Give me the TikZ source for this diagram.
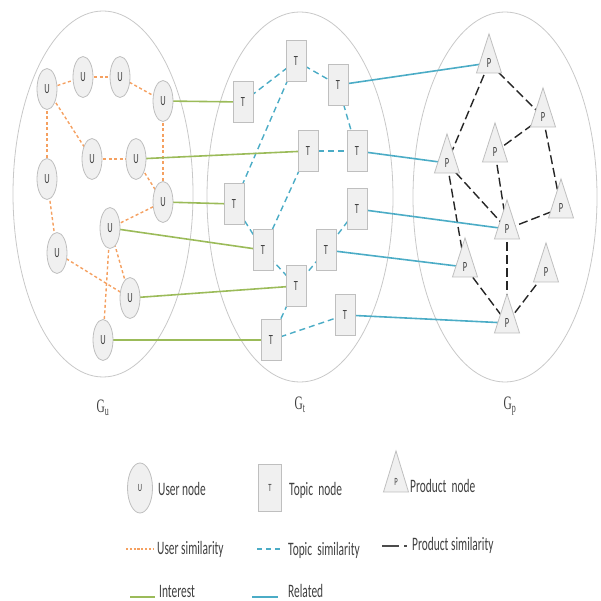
\documentclass[tikz,border=0pt]{standalone}
\usepackage{fontspec}
\setmainfont{Carlito}
\newfontfamily\gserif{Liberation Serif}
\usetikzlibrary{shapes.geometric,backgrounds}
\definecolor{uor}{HTML}{F5A060}
\definecolor{tbl}{HTML}{4BACC6}
\definecolor{igr}{HTML}{9BBB59}
\definecolor{nfill}{HTML}{F0F0F0}
\definecolor{nline}{HTML}{BFBFBF}
\definecolor{gline}{HTML}{C8C8C8}
\definecolor{txt}{HTML}{404040}
\newcommand{\sq}[1]{\scalebox{0.6}[1]{#1}}
\begin{document}
\begin{tikzpicture}[x=1pt,y=-1pt,
  every node/.style={text=txt},
  unode/.style={ellipse, draw=nline, fill=nfill, line width=0.8pt, minimum width=20pt, minimum height=41pt, inner sep=0pt, font=\fontsize{14}{14}\selectfont},
  tnode/.style={rectangle, draw=nline, fill=nfill, line width=0.8pt, minimum width=20pt, minimum height=41pt, inner sep=0pt, font=\fontsize{14}{14}\selectfont},
  pnode/.style={isosceles triangle, shape border rotate=90, isosceles triangle stretches, draw=nline, fill=nfill, line width=0.8pt, minimum width=25pt, minimum height=39pt, inner sep=0pt, font=\fontsize{14}{14}\selectfont},
  graph/.style={draw=gline, line width=0.8pt},
  usim/.style={draw=uor, line width=1.4pt, dash pattern=on 3pt off 2.5pt},
  tsim/.style={draw=tbl, line width=1.4pt, dash pattern=on 6pt off 4pt},
  psim/.style={draw=black!85, line width=1.4pt, dash pattern=on 9pt off 4pt},
  inter/.style={draw=igr, line width=1.6pt},
  rel/.style={draw=tbl, line width=1.6pt},
  gl/.style={font=\gserif\fontsize{19}{19}\selectfont},
  lt/.style={anchor=west, font=\fontsize{19}{19}\selectfont, inner sep=0pt}
]
\useasboundingbox (0,0) rectangle (600,601);

% user nodes
\node[unode] (u1) at (47,89) {\sq{U}};
\node[unode] (u2) at (83,77) {\sq{U}};
\node[unode] (u3) at (120,77) {\sq{U}};
\node[unode] (u4) at (163,101) {\sq{U}};
\node[unode] (u5) at (92,159) {\sq{U}};
\node[unode] (u6) at (136,159) {\sq{U}};
\node[unode] (u7) at (47,179) {\sq{U}};
\node[unode] (u8) at (163,202) {\sq{U}};
\node[unode] (u9) at (110,228) {\sq{U}};
\node[unode] (u10) at (57,253) {\sq{U}};
\node[unode] (u11) at (130,298) {\sq{U}};
\node[unode] (u12) at (103,340) {\sq{U}};

% topic nodes
\node[tnode] (t1) at (243,102) {\sq{T}};
\node[tnode] (t2) at (296,61) {\sq{T}};
\node[tnode] (t3) at (338,85) {\sq{T}};
\node[tnode] (t4) at (308,151) {\sq{T}};
\node[tnode] (t5) at (357,151) {\sq{T}};
\node[tnode] (t6) at (234,204) {\sq{T}};
\node[tnode] (t7) at (357,209) {\sq{T}};
\node[tnode] (t8) at (263,250) {\sq{T}};
\node[tnode] (t9) at (326,250) {\sq{T}};
\node[tnode] (t10) at (296,286) {\sq{T}};
\node[tnode] (t11) at (345,315) {\sq{T}};
\node[tnode] (t12) at (271,340) {\sq{T}};

% product nodes
\node[pnode] (p1) at (489,63) {\sq{P}};
\node[pnode] (p2) at (543,117) {\sq{P}};
\node[pnode] (p3) at (495,152) {\sq{P}};
\node[pnode] (p4) at (447,163) {\sq{P}};
\node[pnode] (p5) at (561,208) {\sq{P}};
\node[pnode] (p6) at (507,229) {\sq{P}};
\node[pnode] (p7) at (465,267) {\sq{P}};
\node[pnode] (p8) at (546,272) {\sq{P}};
\node[pnode] (p9) at (507,323) {\sq{P}};

\begin{pgfonlayer}{background}
\node[graph, ellipse, minimum width=180pt, minimum height=366pt] (gu) at (103,194) {};
\node[graph, ellipse, minimum width=186pt, minimum height=370pt] (gt) at (300,197) {};
\node[graph, ellipse, minimum width=184pt, minimum height=370pt] (gp) at (505,197) {};
% user similarity
\draw[usim] (u1.center) -- (u2.center);
\draw[usim] (u2.center) -- (u3.center);
\draw[usim] (u3.center) -- (u4.center);
\draw[usim] (u1.center) -- (u5.center);
\draw[usim] (u5.center) -- (u6.center);
\draw[usim] (u1.center) -- (u7.center);
\draw[usim] (u4.center) -- (u8.center);
\draw[usim] (u6.center) -- (u8.center);
\draw[usim] (u8.center) -- (u9.center);
\draw[usim] (u7.center) -- (u10.center);
\draw[usim] (u10.center) -- (u11.center);
\draw[usim] (u9.center) -- (u11.center);
\draw[usim] (u9.center) -- (u12.center);
% topic similarity
\draw[tsim] (t1.center) -- (t2.center);
\draw[tsim] (t2.center) -- (t3.center);
\draw[tsim] (t2.center) -- (t6.center);
\draw[tsim] (t3.center) -- (t5.center);
\draw[tsim] (t4.center) -- (t5.center);
\draw[tsim] (t4.center) -- (t8.center);
\draw[tsim] (t6.center) -- (t8.center);
\draw[tsim] (t8.center) -- (t10.center);
\draw[tsim] (t10.center) -- (t9.center);
\draw[tsim] (t9.center) -- (t7.center);
\draw[tsim] (t10.center) -- (t12.center);
\draw[tsim] (t12.center) -- (t11.center);
% product similarity
\draw[psim] (p1.center) -- (p2.center);
\draw[psim] (p1.center) -- (p4.center);
\draw[psim] (p2.center) -- (p3.center);
\draw[psim] (p2.center) -- (p5.center);
\draw[psim] (p4.center) -- (p6.center);
\draw[psim] (p4.center) -- (p7.center);
\draw[psim] (p3.center) -- (p6.center);
\draw[psim] (p6.center) -- (p5.center);
\draw[psim] (p6.center) -- (p9.center);
\draw[psim] (p7.center) -- (p9.center);
\draw[psim] (p9.center) -- (p8.center);
% interest
\draw[inter] (u4.center) -- (t1.center);
\draw[inter] (u6.center) -- (t4.center);
\draw[inter] (u8.center) -- (t6.center);
\draw[inter] (u9.center) -- (t8.center);
\draw[inter] (u11.center) -- (t10.center);
\draw[inter] (u12.center) -- (t12.center);
% related
\draw[rel] (t3.center) -- (p1.center);
\draw[rel] (t5.center) -- (p4.center);
\draw[rel] (t7.center) -- (p6.center);
\draw[rel] (t9.center) -- (p7.center);
\draw[rel] (t11.center) -- (p9.center);
\end{pgfonlayer}

% graph labels
\node[gl] (lgu) at (103,408) {\sq{G\textsubscript{u}}};
\node[gl] (lgt) at (300,405) {\sq{G\textsubscript{t}}};
\node[gl] (lgp) at (510,406) {\sq{G\textsubscript{p}}};

% legend nodes
\node[unode, minimum width=25pt, minimum height=50pt, font=\fontsize{11}{11}\selectfont] (lu) at (140,488) {\sq{U}};
\node[lt] (lut) at (158,489) {\sq{User node}};
\node[tnode, minimum width=23pt, minimum height=47pt, font=\fontsize{11}{11}\selectfont] (ltn) at (270,488) {\sq{T}};
\node[lt] (ltt) at (289,490) {\sq{Topic\ \ node}};
\node[pnode, minimum width=25pt, minimum height=41pt, font=\fontsize{11}{11}\selectfont] (lpn) at (396,482) {\sq{P}};
\node[lt] (lpt) at (410,486) {\sq{Product\ \ node}};

% legend lines
\coordinate (a1) at (126,549); \coordinate (a2) at (153,549);
\draw[usim, line width=1.2pt, dash pattern=on 2.2pt off 1.6pt] (a1) -- (a2);
\node[lt] (lus) at (157,549) {\sq{User similarity}};
\coordinate (b1) at (257,549); \coordinate (b2) at (283,549);
\draw[tsim, line width=1.4pt, dash pattern=on 5pt off 4pt] (b1) -- (b2);
\node[lt] (lts) at (288,550) {\sq{Topic\ \ similarity}};
\coordinate (c1) at (382,546); \coordinate (c2) at (408,546);
\draw[draw=black!70, line width=1.6pt, dash pattern=on 17pt off 5pt on 3pt off 20pt] (c1) -- (c2);
\node[lt] (lps) at (412,545) {\sq{Product similarity}};
\coordinate (d1) at (130,597); \coordinate (d2) at (155,597);
\draw[inter] (d1) -- (d2);
\node[lt] (lin) at (159,591) {\sq{Interest}};
\coordinate (e1) at (252,597); \coordinate (e2) at (278,597);
\draw[rel] (e1) -- (e2);
\node[lt] (lre) at (288,591) {\sq{Related}};
\end{tikzpicture}
\end{document}
